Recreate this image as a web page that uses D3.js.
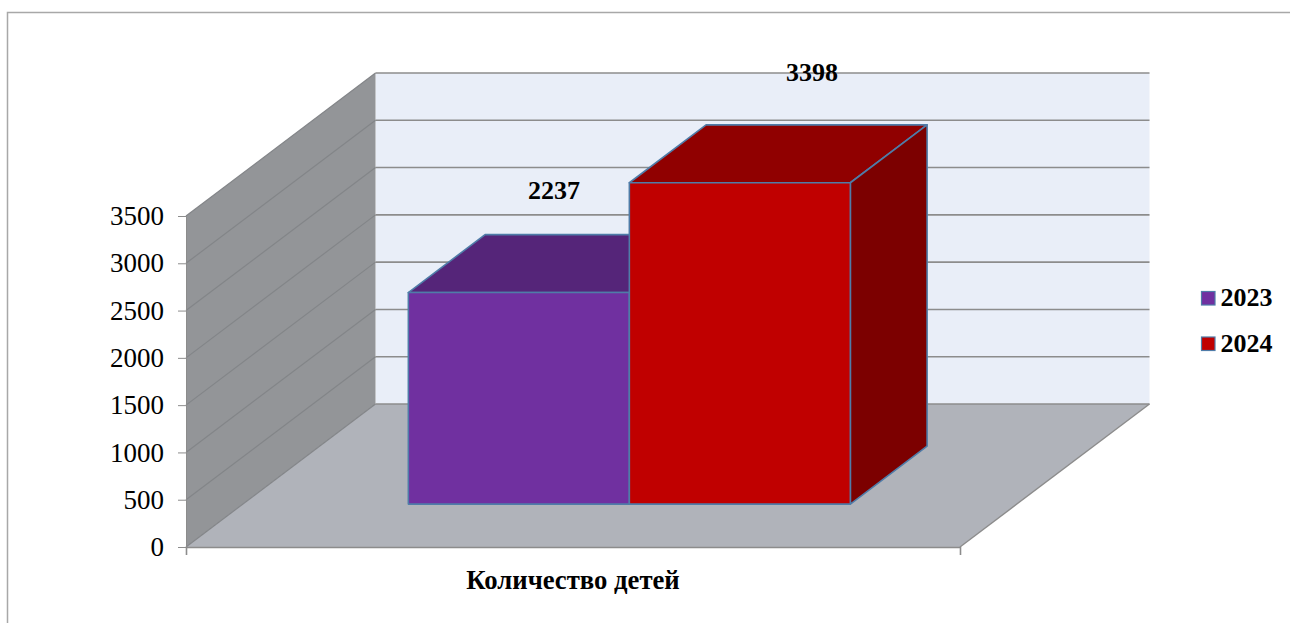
<!DOCTYPE html>
<html>
<head>
<meta charset="utf-8">
<title>Количество детей</title>
<script src="https://d3js.org/d3.v7.min.js"></script>
<style>
	html, body { margin: 0; padding: 0; background: #fff; overflow: hidden; }
	svg { display: block; }
	text { font-family: "Liberation Serif", serif; fill: #000; }
	.axis path, .axis line { stroke: #8c8c8c; }
</style>
</head>
<body>
<script>
// data
var categories = ["Количество детей"];
var seriesNames = ["2023", "2024"];
var seriesValues = [2237, 3398];
var valueTicks = [0, 500, 1000, 1500, 2000, 2500, 3000, 3500];

var width = 1290, height = 623;

var colors = {
	"2023": { front: "#7030a0", top: "#552579" },
	"2024": { front: "#c00000", top: "#900000", side: "#7c0000" }
};
var edge = "#4f7ca8";

var svg = d3.select("body").append("svg")
	.attr("width", width)
	.attr("height", height);

// chart border, only left and top are inside the crop
svg.append("path")
	.attr("d", "M7.5,623V12.5H1290")
	.attr("fill", "none")
	.attr("stroke", "#a8a8a8")
	.attr("stroke-width", 1.5);

// scales: front plane plus a depth axis going up and to the right
var y = d3.scaleLinear().domain([0, 3500]).range([547, 216]);
var xFloor = d3.scaleLinear().domain([0, 1]).range([186, 960]);
var depthX = d3.scaleLinear().domain([0, 1]).range([0, 189.5]);
var depthY = d3.scaleLinear().domain([0, 1]).range([0, 143]);
var x = d3.scaleBand().domain(seriesNames).range([351.5, 793.5]);

// project value space (px along x, value, depth 0..1) to the screen
function pt(px, v, d) {
	return [px + depthX(d), y(v) - depthY(d)];
}
var line = d3.line();
function face(points) {
	return line(points) + "Z";
}

// back wall
svg.append("path")
	.attr("d", face([pt(186, 0, 1), pt(960, 0, 1), pt(960, 3500, 1), pt(186, 3500, 1)]))
	.attr("fill", "#e9eef8");

// side wall
svg.append("path")
	.attr("d", face([pt(186, 0, 0), pt(186, 0, 1), pt(186, 3500, 1), pt(186, 3500, 0)]))
	.attr("fill", "#939598");

// floor
svg.append("path")
	.attr("d", face([pt(186, 0, 0), pt(960, 0, 0), pt(960, 0, 1), pt(186, 0, 1)]))
	.attr("fill", "#b0b3ba");

// gridlines
var grid = svg.append("g").attr("fill", "none");
grid.selectAll("path.back")
	.data(valueTicks)
	.enter().append("path")
	.attr("class", "back")
	.attr("d", function(d) { return line([pt(186, d, 1), pt(960, d, 1)]); })
	.attr("stroke", "#8c8c8c")
	.attr("stroke-width", 1.6);
grid.selectAll("path.wall")
	.data(valueTicks)
	.enter().append("path")
	.attr("class", "wall")
	.attr("d", function(d) { return line([pt(186, d, 0), pt(186, d, 1)]); })
	.attr("stroke", "#838588")
	.attr("stroke-width", 1.2);

// floor edge on the right
svg.append("path")
	.attr("d", line([pt(960, 0, 0), pt(960, 0, 1)]))
	.attr("fill", "none")
	.attr("stroke", "#8c8c8c")
	.attr("stroke-width", 1.4);

// axes
var yAxis = d3.axisLeft(y).tickValues(valueTicks).tickSize(8).tickPadding(14).tickFormat(d3.format("d"));
var gy = svg.append("g").attr("class", "axis").attr("transform", "translate(186,0)").call(yAxis);
gy.selectAll("text").attr("font-size", 27);

var xAxis = d3.axisBottom(xFloor).tickValues([0, 1]).tickSize(8).tickFormat("");
var gx = svg.append("g").attr("class", "axis").attr("transform", "translate(0,547)").call(xAxis);
gx.select(".domain").attr("stroke-width", 1.6);

svg.append("text")
	.attr("x", 573)
	.attr("y", 589)
	.attr("text-anchor", "middle")
	.attr("font-size", 26.7)
	.attr("font-weight", "bold")
	.text(categories[0]);

// bars, left one first so the taller one overlaps it
var dNear = 0.3, dFar = 0.705;
var bars = svg.append("g")
	.attr("stroke", edge)
	.attr("stroke-width", 1.6)
	.attr("stroke-linejoin", "round");

seriesNames.forEach(function(name, i) {
	var v = seriesValues[i];
	var x0 = x(name), x1 = x0 + x.bandwidth();
	var c = colors[name];
	var g = bars.append("g");
	g.append("path")
		.attr("d", face([pt(x0, v, dNear), pt(x1, v, dNear), pt(x1, v, dFar), pt(x0, v, dFar)]))
		.attr("fill", c.top);
	if (i === seriesNames.length - 1) {
		g.append("path")
			.attr("d", face([pt(x1, 0, dNear), pt(x1, 0, dFar), pt(x1, v, dFar), pt(x1, v, dNear)]))
			.attr("fill", c.side);
	}
	g.append("path")
		.attr("d", face([pt(x0, 0, dNear), pt(x1, 0, dNear), pt(x1, v, dNear), pt(x0, v, dNear)]))
		.attr("fill", c.front);
});

// data labels float above the far edge of each bar top
var labelNudgeX = [92, 129];
var labelNudgeY = [-36, -44];
svg.selectAll("text.value")
	.data(seriesValues)
	.enter().append("text")
	.attr("class", "value")
	.attr("x", function(d, i) { return x(seriesNames[i]) + x.bandwidth() / 2 + labelNudgeX[i]; })
	.attr("y", function(d, i) { return pt(0, d, dFar)[1] + labelNudgeY[i]; })
	.attr("text-anchor", "middle")
	.attr("font-size", 26)
	.attr("font-weight", "bold")
	.text(function(d) { return d; });

// legend
var legend = svg.selectAll("g.legend")
	.data(seriesNames)
	.enter().append("g")
	.attr("class", "legend")
	.attr("transform", function(d, i) { return "translate(1201.5," + (291 + i * 45.5) + ")"; });
legend.append("rect")
	.attr("y", 0.5)
	.attr("width", 13.5)
	.attr("height", 13.5)
	.attr("fill", function(d) { return colors[d].front; })
	.attr("stroke", edge)
	.attr("stroke-width", 1.2);
legend.append("text")
	.attr("x", 19)
	.attr("y", 15)
	.attr("font-size", 26)
	.attr("font-weight", "bold")
	.text(function(d) { return d; });
</script>
</body>
</html>
